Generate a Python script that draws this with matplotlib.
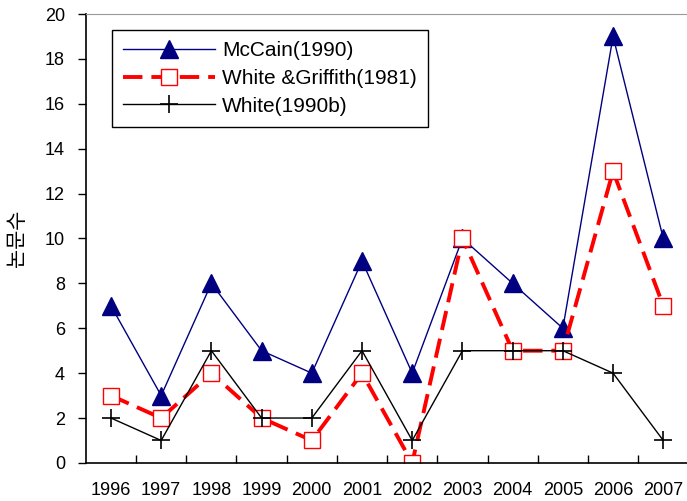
import matplotlib
matplotlib.use("Agg")
import matplotlib.pyplot as plt
import numpy as np

# -----------------------------------------------------------------------------
# DATA
# -----------------------------------------------------------------------------
years = ["1996", "1997", "1998", "1999", "2000", "2001",
         "2002", "2003", "2004", "2005", "2006", "2007"]
mccain = [7, 3, 8, 5, 4, 9, 4, 10, 8, 6, 19, 10]
white_griffith = [3, 2, 4, 2, 1, 4, 0, 10, 5, 5, 13, 7]
white = [2, 1, 5, 2, 2, 5, 1, 5, 5, 5, 4, 1]

plt.rcParams["font.family"] = ["Liberation Sans", "Noto Sans CJK KR", "DejaVu Sans"]

fig = plt.figure(figsize=(6.87, 5.01), dpi=100)
ax = fig.add_axes([0.125, 0.076, 0.877, 0.896])

x = np.arange(len(years))
ax.plot(x, mccain, color="#000080", linewidth=1.0, marker="^", markersize=13,
        markerfacecolor="#000080", markeredgecolor="#000080", label="McCain(1990)")
ax.plot(x, white_griffith, color="#ff0000", linewidth=2.8, linestyle=(0, (5, 2.3)),
        marker="s", markersize=12, markerfacecolor="white", markeredgecolor="#ff0000",
        markeredgewidth=1.0, label="White &Griffith(1981)")
ax.plot(x, white, color="black", linewidth=1.0, marker="+", markersize=13,
        markeredgewidth=1.2, label="White(1990b)")

ax.set_xlim(-0.5, len(years) - 0.5)
ax.set_ylim(0, 20)
ax.set_yticks(range(0, 21, 2))
ax.set_xticks(x)
ax.set_xticklabels(years, fontsize=13)
ax.set_xticks(np.arange(0.5, len(years) - 0.5, 1), minor=True)
ax.tick_params(axis="x", which="major", length=0, pad=14)
ax.tick_params(axis="x", which="minor", direction="in", length=6, width=1)
ax.tick_params(axis="y", direction="out", length=6, width=1, labelsize=13, pad=9)

ax.spines["right"].set_visible(False)
ax.spines["top"].set_color("#999999")
ax.spines["left"].set_linewidth(1.2)
ax.spines["bottom"].set_linewidth(1.2)

ax.set_ylabel("논문수", fontsize=15, family=["Noto Sans CJK KR", "DejaVu Sans"], labelpad=12)

leg = ax.legend(loc="upper left", bbox_to_anchor=(0.043, 0.965), fontsize=15,
                frameon=True, fancybox=False, edgecolor="black", framealpha=1,
                handlelength=4.4, borderpad=0.55, labelspacing=0.42, handletextpad=0.35,
                borderaxespad=0)
leg.get_frame().set_linewidth(1.0)

plt.savefig("out.png", dpi=100)
plt.close()
